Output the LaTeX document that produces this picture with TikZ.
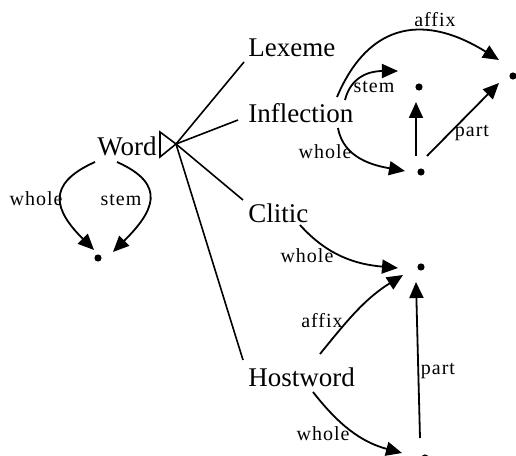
\documentclass[tikz,border=0pt]{standalone}
\usepackage{fontspec}
\setmainfont{Liberation Serif}
\newfontfamily\relfont[LetterSpace=5]{Liberation Serif}
\usetikzlibrary{arrows.meta}

\begin{document}
\begin{tikzpicture}[x=0.5pt, y=0.5pt,
    lex/.style={anchor=base west, inner sep=0pt, font=\fontsize{13.5}{15}\selectfont},
    lbl/.style={anchor=base, inner sep=0pt, font=\relfont\fontsize{10}{12}\selectfont},
    blob/.style={circle, fill, inner sep=0pt, minimum size=3.6pt},
    link/.style={line width=0.8pt},
    arc/.style={line width=0.9pt, -{Triangle[length=8pt,width=7pt]}}]
  \useasboundingbox (0,0) rectangle (516,456);

  %--- word classes ---
  \node[lex] (word)   at (97,300) {Word};
  \node[lex] (lexeme) at (248,399) {Lexeme};
  \node[lex] (infl)   at (248,333) {Inflection};
  \node[lex] (clitic) at (248,233) {Clitic};
  \node[lex] (host)   at (248,69)  {Hostword};

  %--- isa triangle and its branches ---
  \draw[link] (160,324) -- (176,312) coordinate (isa) -- (160,299) -- cycle;
  \draw[link] (isa) -- ([shift={(-4,-5)}]lexeme.base west);
  \draw[link] (isa) -- ([shift={(-10,3)}]infl.base west);
  \draw[link] (isa) -- ([shift={(-5,23)}]clitic.base west);
  \draw[link] (isa) -- ([shift={(-5,27)}]host.base west);

  %--- value dots ---
  \node[blob] (wdot) at (98,198)  {};
  \node[blob] (sdot) at (419,369) {};
  \node[blob] (adot) at (513,380) {};
  \node[blob] (hdot) at (421,284) {};
  \node[blob] (cdot) at (421,189) {};
  \node[blob] (bdot) at (425,-2)  {};

  %--- Word: whole and stem ---
  \draw[arc] ([shift={(-2,-6)}]word.base west)
      to[out=204, in=135, looseness=1.6] ([shift={(-4,8)}]wdot.center);
  \draw[arc] ([shift={(20,-6)}]word.base west)
      to[out=336, in=45, looseness=1.6] ([shift={(15,6)}]wdot.center);
  \node[lbl] (wordwhole) at (36,250)  {whole};
  \node[lbl] (wordstem)  at (121,250) {stem};

  %--- Inflection ---
  \draw[arc] ([shift={(89,26)}]infl.base west)
      to[out=67, in=148, looseness=1.3] ([shift={(-14,16)}]adot.center);
  \draw[arc] ([shift={(97,23)}]infl.base west)
      to[out=76, in=180, looseness=1.1] ([shift={(-21,16)}]sdot.center);
  \draw[arc] ([shift={(90,-5)}]infl.base west)
      to[out=280, in=170] ([shift={(-16,1)}]hdot.center);
  \draw[arc] ([shift={(-5,16)}]hdot.center) -- ([shift={(-3,-15)}]sdot.center);
  \draw[arc] ([shift={(6,16)}]hdot.center) -- ([shift={(-14,-7)}]adot.center);
  \node[lbl] (inflaffix) at (435,429) {affix};
  \node[lbl] (inflstem)  at (374,363) {stem};
  \node[lbl] (inflpart)  at (472,319) {part};
  \node[lbl] (inflwhole) at (325,297) {whole};

  %--- Clitic and Hostword ---
  \draw[arc] ([shift={(52,-2)}]clitic.base west)
      to[out=-48, in=175] ([shift={(-23,-1)}]cdot.center);
  \draw[arc] ([shift={(72,33)}]host.base west)
      to[out=51, in=212] ([shift={(-18,-8)}]cdot.center);
  \draw[arc] ([shift={(65,-5)}]host.base west)
      to[out=-52, in=165] ([shift={(-23,5)}]bdot.center);
  \draw[arc] ([shift={(-5,20)}]bdot.center) -- ([shift={(-5,-15)}]cdot.center);
  \node[lbl] (cliwhole)  at (307,193) {whole};
  \node[lbl] (hostaffix) at (322,128) {affix};
  \node[lbl] (hostpart)  at (438,81)  {part};
  \node[lbl] (hostwhole) at (323,15)  {whole};
\end{tikzpicture}
\end{document}
